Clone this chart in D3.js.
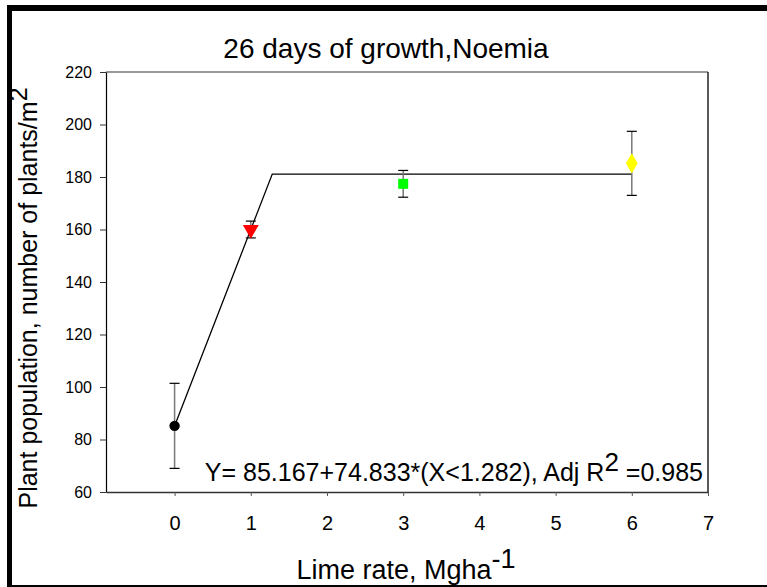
<!DOCTYPE html>
<html>
<head>
<meta charset="utf-8">
<script src="https://cdn.jsdelivr.net/npm/d3@7"></script>
<style>
  body { margin: 0; background: #fff; }
  text { font-family: "Liberation Sans", Arial, sans-serif; }
</style>
</head>
<body>
<svg width="767" height="587"></svg>
<script>
// data
var limeRates = [0, 1, 3, 6];
var population = [85.2, 160, 177.4, 185.2];
var stdErr = [16.2, 3.2, 5.1, 12.2];
var markers = ["circle", "triangle", "square", "diamond"];
var colors = ["black", "red", "#00ff00", "yellow"];
var xTicks = [0, 1, 2, 3, 4, 5, 6, 7];
var yTicks = [60, 80, 100, 120, 140, 160, 180, 200, 220];

// fitted model: Y = 85.167 + 74.833*min(X, 1.282)
var a = 85.167, b = 74.833, knot = 1.282;
var fitX = [0, knot, 6];

var svg = d3.select("svg");

// outer frame
svg.append("rect").attr("x", 7).attr("y", 5).attr("width", 5).attr("height", 582).attr("fill", "black");
svg.append("rect").attr("x", 7).attr("y", 5).attr("width", 760).attr("height", 6).attr("fill", "black");
svg.append("rect").attr("x", 7).attr("y", 585).attr("width", 760).attr("height", 2).attr("fill", "black");

var x = d3.scaleLinear().domain([-0.9, 7]).range([106, 708]);
var y = d3.scaleLinear().domain([60, 220]).range([492, 72]);

// plot box top / right
svg.append("line").attr("x1", 106).attr("x2", 708).attr("y1", 72).attr("y2", 72)
  .attr("stroke", "#777").attr("stroke-width", 1.5);
svg.append("line").attr("x1", 708).attr("x2", 708).attr("y1", 72).attr("y2", 492)
  .attr("stroke", "#222").attr("stroke-width", 1.5);

var xAxis = svg.append("g").attr("transform", "translate(0,492)")
  .call(d3.axisBottom(x).tickValues(xTicks).tickSize(4).tickSizeOuter(0).tickPadding(20));
xAxis.selectAll("text").style("font-size", "20px").attr("fill", "black");
xAxis.select(".domain").attr("stroke", "#333").attr("stroke-width", 1.5);
xAxis.selectAll(".tick line").attr("stroke", "#555");

var yAxis = svg.append("g").attr("transform", "translate(106,0)")
  .call(d3.axisLeft(y).tickValues(yTicks).tickSize(6).tickSizeOuter(0).tickPadding(8));
yAxis.selectAll("text").style("font-size", "16px").attr("fill", "black");
yAxis.select(".domain").attr("stroke", "black").attr("stroke-width", 1.2);
yAxis.selectAll(".tick line").attr("stroke", "#333");

// title
svg.append("text").attr("x", 386).attr("y", 58).attr("text-anchor", "middle")
  .style("font-size", "28px").text("26 days of growth,Noemia");

// axis labels
var xl = svg.append("text").attr("x", 406).attr("y", 579).attr("text-anchor", "middle")
  .style("font-size", "27px");
xl.append("tspan").text("Lime rate, Mgha");
xl.append("tspan").attr("dy", -11).text("-1");

var yl = svg.append("text").attr("transform", "translate(37,298) rotate(-90)")
  .attr("text-anchor", "middle").style("font-size", "25px");
yl.append("tspan").text("Plant population, number of plants/m");
yl.append("tspan").attr("dy", -10).text("2");

// fitted line
var fit = d3.line()
  .x(function(d) { return x(d); })
  .y(function(d) { return y(a + b * Math.min(d, knot)); });
svg.append("path").datum(fitX).attr("d", fit)
  .attr("fill", "none").attr("stroke", "black").attr("stroke-width", 1.3);

// error bars
var pts = limeRates.map(function(d, i) {
  return { x: d, y: population[i], e: stdErr[i], m: markers[i], c: colors[i] };
});
var eb = svg.append("g").selectAll("g").data(pts).enter().append("g");
eb.append("line")
  .attr("x1", function(d) { return x(d.x); }).attr("x2", function(d) { return x(d.x); })
  .attr("y1", function(d) { return y(d.y - d.e); }).attr("y2", function(d) { return y(d.y + d.e); })
  .attr("stroke", "#777").attr("stroke-width", 1.5);
[-1, 1].forEach(function(s) {
  eb.append("line")
    .attr("x1", function(d) { return x(d.x) - 5; }).attr("x2", function(d) { return x(d.x) + 5; })
    .attr("y1", function(d) { return y(d.y + s * d.e); }).attr("y2", function(d) { return y(d.y + s * d.e); })
    .attr("stroke", "black").attr("stroke-width", 1.2);
});

// markers
var sym = {
  circle: d3.symbol().type(d3.symbolCircle).size(85),
  square: d3.symbol().type(d3.symbolSquare).size(100),
  diamond: d3.symbol().type(d3.symbolDiamond).size(120),
  triangle: d3.symbol().type(d3.symbolTriangle).size(110)
};
svg.append("g").selectAll("path").data(pts).enter().append("path")
  .attr("d", function(d) { return sym[d.m](); })
  .attr("transform", function(d) {
    return "translate(" + x(d.x) + "," + y(d.y) + ")" + (d.m == "triangle" ? " rotate(180)" : "");
  })
  .attr("fill", function(d) { return d.c; });

// equation
var eq = svg.append("text").attr("x", 703).attr("y", 481).attr("text-anchor", "end")
  .style("font-size", "25px");
eq.append("tspan").text("Y= 85.167+74.833*(X<1.282), Adj R");
eq.append("tspan").attr("dy", -10).style("font-size", "26px").text("2");
eq.append("tspan").attr("dy", 10).text(" =0.985");
</script>
</body>
</html>
